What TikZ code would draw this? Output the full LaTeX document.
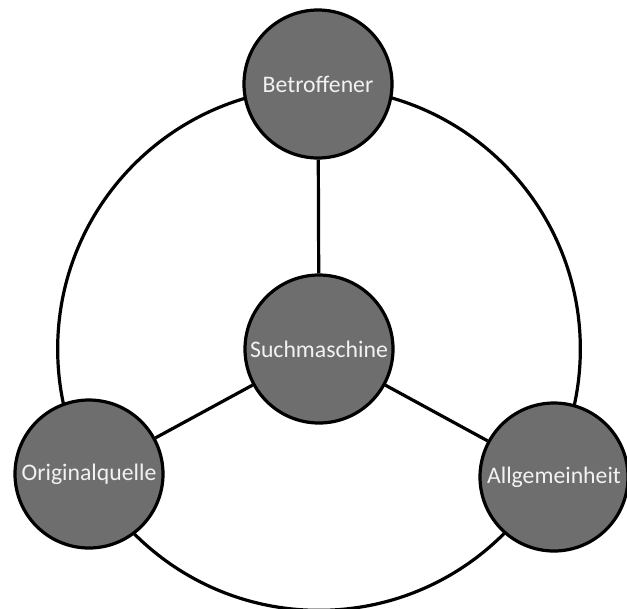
\documentclass[tikz,border=0pt]{standalone}
\usepackage{fontspec}
\setmainfont{Carlito}
\usetikzlibrary{backgrounds}
\definecolor{actorFill}{HTML}{6E6E6E}
\definecolor{actorText}{HTML}{F2F2F2}
\tikzset{
    actor/.style={circle, draw=black, fill=actorFill, line width=2.4pt, minimum size=111pt, inner sep=0pt, text=actorText, font=\fontsize{17.8}{20}\selectfont},
    link/.style={draw=black, line width=2.4pt},
}
\begin{document}
\begin{tikzpicture}[x=0.75pt,y=-0.75pt]
    \useasboundingbox (0,0) rectangle (627,608);
    \node[actor] (sm) at (319,349) {Suchmaschine};
    \node[actor] (betr) at (318,84) {Betroffener};
    \node[actor] (orig) at (89,474) {Originalquelle};
    \node[actor] (allg) at (554,477) {Allgemeinheit};
    \begin{scope}[on background layer]
        \draw[link] (sm.center) circle[radius=196pt];
        \draw[link] (sm) -- (betr);
        \draw[link] (sm) -- (orig);
        \draw[link] (sm) -- (allg);
    \end{scope}
\end{tikzpicture}
\end{document}
